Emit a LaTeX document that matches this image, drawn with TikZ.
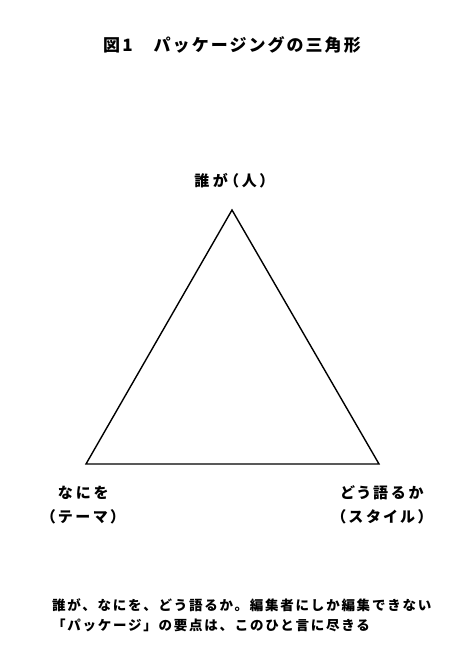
\documentclass[tikz,border=0pt]{standalone}
\usepackage{fontspec}
\usepackage{tikz}
\newfontfamily\jptitle[LetterSpace=12]{Noto Sans CJK JP}
\newfontfamily\jplabel[LetterSpace=22,RawFeature={+palt}]{Noto Sans CJK JP}
\newfontfamily\jpbody[LetterSpace=13]{Noto Sans CJK JP}

\begin{document}
\begin{tikzpicture}[x=1pt,y=1pt,
  title/.style={font=\jptitle\bfseries\fontsize{17}{20}\selectfont},
  vertex/.style={font=\jplabel\bfseries\fontsize{15}{24}\selectfont, align=center, inner sep=0pt},
  note/.style={font=\jpbody\bfseries\fontsize{13.5}{20}\selectfont, anchor=west, inner sep=0pt}]
\useasboundingbox (0,0) rectangle (475,672);

% title
\node[title] (zu) at (232,627) {図1　パッケージングの三角形};

% triangle
\coordinate (hito) at (232,462);
\coordinate (tema) at (86,208);
\coordinate (sutairu) at (379,208);
\draw[line width=1.4pt, line join=miter] (hito) -- (sutairu) -- (tema) -- cycle;

% vertex labels
\node[vertex] (dare) at (231,491) {誰が（人）};
\node[vertex] (nani) at (83,167) {なにを\\（テーマ）};
\node[vertex] (dou) at (382,167) {どう語るか\\（スタイル）};

% caption
\node[note] (line1) at (52,67) {誰が、なにを、どう語るか。編集者にしか編集できない};
\node[note] (line2) at (52,47) {「パッケージ」の要点は、このひと言に尽きる};
\end{tikzpicture}
\end{document}
